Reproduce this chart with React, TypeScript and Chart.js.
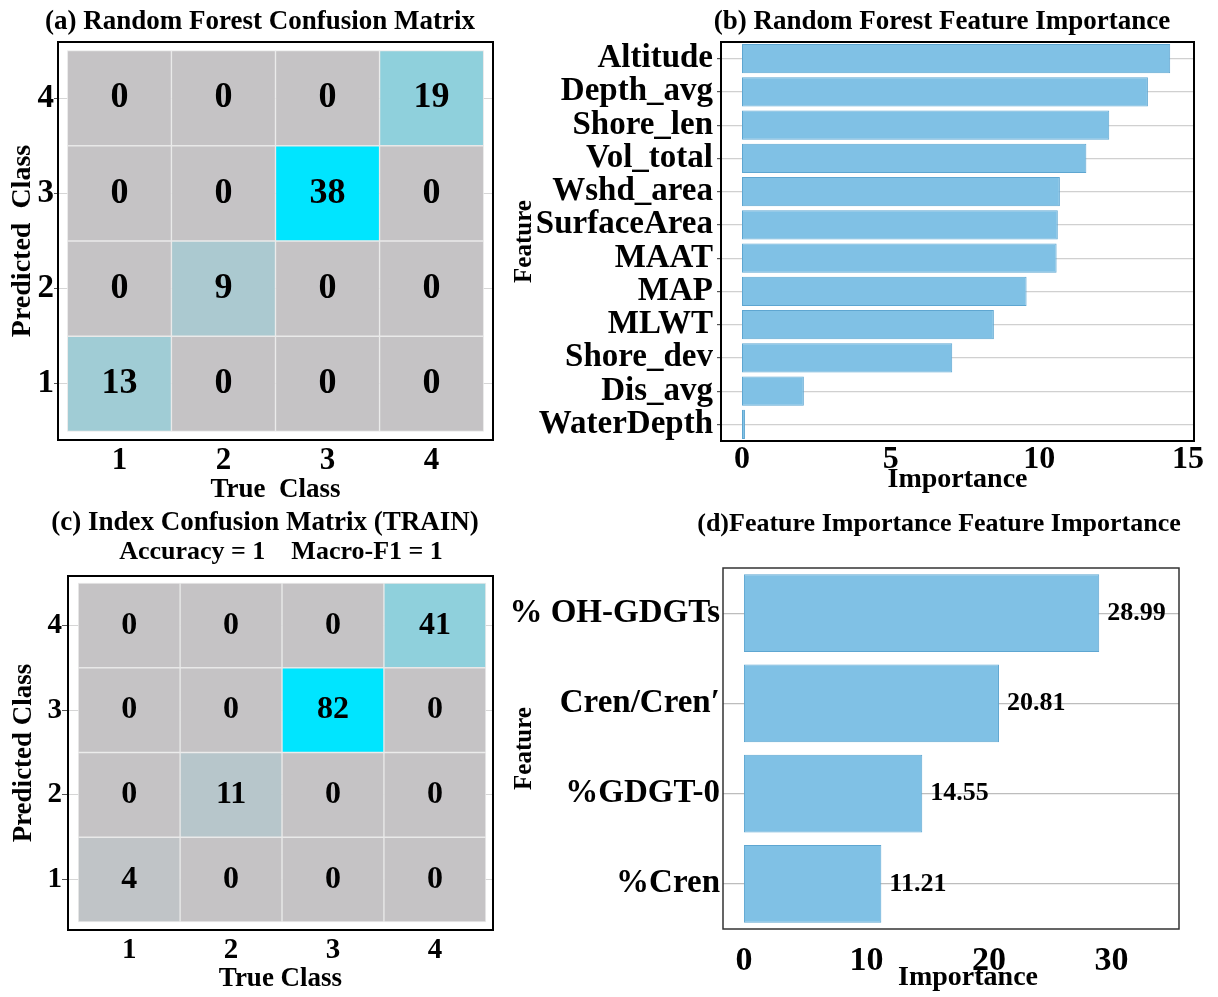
import React, { useEffect, useRef } from 'react';
import { Chart, registerables } from 'chart.js';

Chart.register(...registerables);

const FONT = "'Liberation Serif', 'Times New Roman', Times, serif";

// ---------- data ----------
const classLabels = [1, 2, 3, 4];
// rows = predicted class 1..4, columns = true class 1..4
const cmForestRows = [
  [13, 0, 0, 0],
  [0, 9, 0, 0],
  [0, 0, 38, 0],
  [0, 0, 0, 19],
];
const cmIndexRows = [
  [4, 0, 0, 0],
  [0, 11, 0, 0],
  [0, 0, 82, 0],
  [0, 0, 0, 41],
];
const forestFeatures = [
  'Altitude', 'Depth_avg', 'Shore_len', 'Vol_total', 'Wshd_area', 'SurfaceArea',
  'MAAT', 'MAP', 'MLWT', 'Shore_dev', 'Dis_avg', 'WaterDepth',
];
const forestImportance = [14.4, 13.65, 12.35, 11.58, 10.69, 10.62, 10.58, 9.57, 8.47, 7.07, 2.08, 0.1];
const forestTicks = [0, 5, 10, 15];
const indexFeatures = ['% OH-GDGTs', 'Cren/Cren\u2032', '%GDGT-0', '%Cren'];
const indexImportance = [28.99, 20.81, 14.55, 11.21];
const indexTicks = [0, 10, 20, 30];

// ---------- helpers ----------
const bold = (size: number, lineHeight = 1.2) => ({ family: FONT, size, weight: 'bold' as const, lineHeight });
const fixWidth = (w: number) => (scale: any) => { scale.width = w; };
const fixHeight = (h: number) => (scale: any) => { scale.height = h; };
const setTicks = (vals: number[]) => (scale: any) => { scale.ticks = vals.map((v) => ({ value: v })); };

const heatStops: [number, number[]][] = [
  [0, [197, 195, 197]],
  [0.5, [143, 208, 220]],
  [1, [0, 229, 255]],
];
function heatColor(v: number, max: number) {
  const t = Math.max(0, Math.min(1, v / max));
  for (let i = 1; i < heatStops.length; i++) {
    const [t0, c0] = heatStops[i - 1];
    const [t1, c1] = heatStops[i];
    if (t <= t1) {
      const f = (t - t0) / (t1 - t0);
      const c = c0.map((a, k) => Math.round(a + (c1[k] - a) * f));
      return `rgb(${c[0]},${c[1]},${c[2]})`;
    }
  }
  return 'rgb(0,229,255)';
}

const framePlugin = (color: string, width: number) => ({
  id: 'frameBox',
  afterDraw(chart: any) {
    const { ctx, chartArea: a } = chart;
    ctx.save();
    ctx.strokeStyle = color;
    ctx.lineWidth = width;
    ctx.strokeRect(a.left, a.top, a.right - a.left, a.bottom - a.top);
    ctx.restore();
  },
});

type TextItem = { text: string; x: number; y: number; size: number };
const textPlugin = (items: TextItem[]) => ({
  id: 'panelTexts',
  afterDraw(chart: any) {
    const ctx = chart.ctx;
    ctx.save();
    ctx.fillStyle = '#000';
    ctx.textAlign = 'center';
    ctx.textBaseline = 'middle';
    items.forEach((it) => {
      ctx.font = `bold ${it.size}px ${FONT}`;
      ctx.fillText(it.text, it.x, it.y);
    });
    ctx.restore();
  },
});

const cellValuePlugin = (rows: number[][], size: number) => ({
  id: 'cellValues',
  afterDatasetsDraw(chart: any) {
    const ctx = chart.ctx;
    ctx.save();
    ctx.font = `bold ${size}px ${FONT}`;
    ctx.fillStyle = '#000';
    ctx.textAlign = 'center';
    ctx.textBaseline = 'middle';
    rows.forEach((row, p) => {
      const meta = chart.getDatasetMeta(p);
      meta.data.forEach((el: any, t: number) => {
        const { x, y, base } = el.getProps(['x', 'y', 'base'], true);
        ctx.fillText(String(row[t]), x, (y + base) / 2);
      });
    });
    ctx.restore();
  },
});

const barValuePlugin = (values: number[], size: number, gap: number) => ({
  id: 'barValues',
  afterDatasetsDraw(chart: any) {
    const ctx = chart.ctx;
    ctx.save();
    ctx.font = `bold ${size}px ${FONT}`;
    ctx.fillStyle = '#000';
    ctx.textAlign = 'left';
    ctx.textBaseline = 'middle';
    chart.getDatasetMeta(0).data.forEach((el: any, i: number) => {
      const { x, y } = el.getProps(['x', 'y'], true);
      ctx.fillText(values[i].toFixed(2), x + gap, y);
    });
    ctx.restore();
  },
});

// ---------- confusion matrix ----------
type CMOpt = {
  top: number; right: number; yw: number; xh: number;
  xr: [number, number]; yr: [number, number];
  xtick: number; xpad: number; xtitle: string; xtitleSize: number; xtitlePad: number;
  ytick: number; tl: number; ypad: number; ytitle: string; ytitleSize: number; ytitlePad: number;
  cellFont: number; frameW: number; titles: TextItem[];
};

function confusionConfig(rows: number[][], o: CMOpt): any {
  const max = Math.max(...rows.flat());
  return {
    type: 'bar',
    data: {
      datasets: rows.map((row, p) => ({
        label: `Predicted ${classLabels[p]}`,
        data: row.map((_v, t) => ({ x: classLabels[t], y: [classLabels[p] - 0.5, classLabels[p] + 0.5] })),
        backgroundColor: row.map((v) => heatColor(v, max)),
        borderColor: 'rgba(232,232,232,0.95)',
        borderWidth: 1,
        borderSkipped: false,
        grouped: false,
        barPercentage: 1,
        categoryPercentage: 1,
      })),
    },
    options: {
      animation: false,
      responsive: false,
      layout: { padding: { top: o.top, right: o.right, left: 0, bottom: 0 } },
      plugins: { legend: { display: false }, tooltip: { enabled: false }, title: { display: false } },
      scales: {
        x: {
          type: 'linear', min: o.xr[0], max: o.xr[1], offset: false,
          afterBuildTicks: setTicks(classLabels), afterFit: fixHeight(o.xh),
          grid: { display: false, drawTicks: false, offset: false }, border: { display: false },
          ticks: { color: '#000', font: bold(o.xtick), padding: o.xpad },
          title: { display: true, text: o.xtitle, color: '#000', font: bold(o.xtitleSize), padding: { top: 0, bottom: o.xtitlePad } },
        },
        y: {
          type: 'linear', min: o.yr[0], max: o.yr[1],
          afterBuildTicks: setTicks(classLabels), afterFit: fixWidth(o.yw),
          grid: { color: '#d6d6d6', lineWidth: 1, drawTicks: true, tickLength: o.tl, tickColor: '#555' },
          border: { display: false },
          ticks: { color: '#000', font: bold(o.ytick, 1), padding: o.ypad },
          title: { display: true, text: o.ytitle, color: '#000', font: bold(o.ytitleSize), padding: { top: o.ytitlePad, bottom: 0 } },
        },
      },
    },
    plugins: [cellValuePlugin(rows, o.cellFont), framePlugin('#000', o.frameW), textPlugin(o.titles)],
  };
}

const configA = () => confusionConfig(cmForestRows, {
  top: 42, right: 12, yw: 58, xh: 70, xr: [0.41, 4.59], yr: [0.41, 4.59],
  xtick: 31, xpad: 2, xtitle: 'True  Class', xtitleSize: 27, xtitlePad: 4,
  ytick: 33, tl: 4, ypad: 0, ytitle: 'Predicted  Class', ytitleSize: 28, ytitlePad: 6,
  cellFont: 36, frameW: 2,
  titles: [{ text: '(a) Random Forest Confusion Matrix', x: 260, y: 22, size: 27 }],
});

const configC = () => confusionConfig(cmIndexRows, {
  top: 76, right: 12, yw: 68, xh: 67, xr: [0.40, 4.57], yr: [0.405, 4.583],
  xtick: 29, xpad: 3, xtitle: 'True Class', xtitleSize: 27, xtitlePad: 2,
  ytick: 29, tl: 6, ypad: 0, ytitle: 'Predicted Class', ytitleSize: 27, ytitlePad: 8,
  cellFont: 32, frameW: 2,
  titles: [
    { text: '(c) Index Confusion Matrix (TRAIN)', x: 265, y: 23, size: 27 },
    { text: 'Accuracy = 1    Macro-F1 = 1', x: 281, y: 52, size: 26 },
  ],
});

// ---------- feature importance ----------
type FIOpt = {
  top: number; right: number; yw: number; xh: number; xr: [number, number]; ticks: number[];
  xtick: number; xpad: number; xtitle: string | null; xtitlePad: number;
  ytick: number; tl: number; ypad: number; gridColor: string;
  barPct: number; frameColor: string; frameW: number; titles: TextItem[]; values?: boolean;
};

function importanceConfig(labels: string[], values: number[], o: FIOpt): any {
  const plugins: any[] = [framePlugin(o.frameColor, o.frameW), textPlugin(o.titles)];
  if (o.values) plugins.unshift(barValuePlugin(values, 26, 8));
  return {
    type: 'bar',
    data: {
      labels,
      datasets: [{
        data: values,
        backgroundColor: '#80c1e5',
        borderColor: '#5ea6d1',
        borderWidth: 1,
        borderSkipped: false,
        barPercentage: o.barPct,
        categoryPercentage: 1,
      }],
    },
    options: {
      indexAxis: 'y',
      animation: false,
      responsive: false,
      layout: { padding: { top: o.top, right: o.right, left: 0, bottom: 0 } },
      plugins: { legend: { display: false }, tooltip: { enabled: false }, title: { display: false } },
      scales: {
        x: {
          type: 'linear', min: o.xr[0], max: o.xr[1],
          afterBuildTicks: setTicks(o.ticks), afterFit: fixHeight(o.xh),
          grid: { display: false, drawTicks: false }, border: { display: false },
          ticks: { color: '#000', font: bold(o.xtick), padding: o.xpad },
          title: o.xtitle
            ? { display: true, text: o.xtitle, color: '#000', font: bold(28), padding: { top: 0, bottom: o.xtitlePad } }
            : { display: false },
        },
        y: {
          type: 'category',
          afterFit: fixWidth(o.yw),
          grid: { offset: false, color: o.gridColor, lineWidth: 1.2, drawTicks: o.tl > 0, tickLength: o.tl, tickColor: '#555' },
          border: { display: false },
          ticks: { color: '#000', font: bold(o.ytick, 1), padding: o.ypad, autoSkip: false },
          title: { display: true, text: 'Feature', color: '#000', font: bold(25), padding: { top: 5, bottom: 0 } },
        },
      },
    },
    plugins,
  };
}

const configB = () => importanceConfig(forestFeatures, forestImportance, {
  top: 42, right: 24, yw: 216, xh: 59, xr: [-0.706, 15.2], ticks: forestTicks,
  xtick: 32, xpad: 0, xtitle: 'Importance', xtitlePad: 3,
  ytick: 33, tl: 4, ypad: 4, gridColor: '#d0d0d0',
  barPct: 0.88, frameColor: '#000', frameW: 2,
  titles: [{ text: '(b) Random Forest Feature Importance', x: 437, y: 22, size: 27 }],
});

const configD = () => importanceConfig(indexFeatures, indexImportance, {
  top: 68, right: 39, yw: 218, xh: 68, xr: [-1.71, 35.5], ticks: indexTicks,
  xtick: 34, xpad: 12, xtitle: null, xtitlePad: 0,
  ytick: 33, tl: 0, ypad: 3, gridColor: '#bdbdbd',
  barPct: 0.86, frameColor: '#333', frameW: 1.5, values: true,
  titles: [
    { text: '(d)Feature Importance Feature Importance', x: 434, y: 24, size: 26 },
    { text: 'Importance', x: 463, y: 478, size: 28 },
  ],
});

// ---------- components ----------
type PanelProps = { left: number; top: number; width: number; height: number; make: () => any };

function Panel({ left, top, width, height, make }: PanelProps) {
  const ref = useRef<HTMLCanvasElement>(null);
  useEffect(() => {
    if (!ref.current) return;
    const chart = new Chart(ref.current, make());
    return () => chart.destroy();
  }, []);
  return (
    <canvas
      ref={ref}
      width={width}
      height={height}
      style={{ position: 'absolute', left, top, width, height }}
    />
  );
}

export default function App() {
  return (
    <div style={{ position: 'absolute', left: 0, top: 0, width: 1218, height: 997, background: '#fff', overflow: 'hidden' }}>
      <Panel left={0} top={0} width={505} height={510} make={configA} />
      <Panel left={505} top={0} width={713} height={500} make={configB} />
      <Panel left={0} top={500} width={505} height={497} make={configC} />
      <Panel left={505} top={500} width={713} height={497} make={configD} />
    </div>
  );
}
